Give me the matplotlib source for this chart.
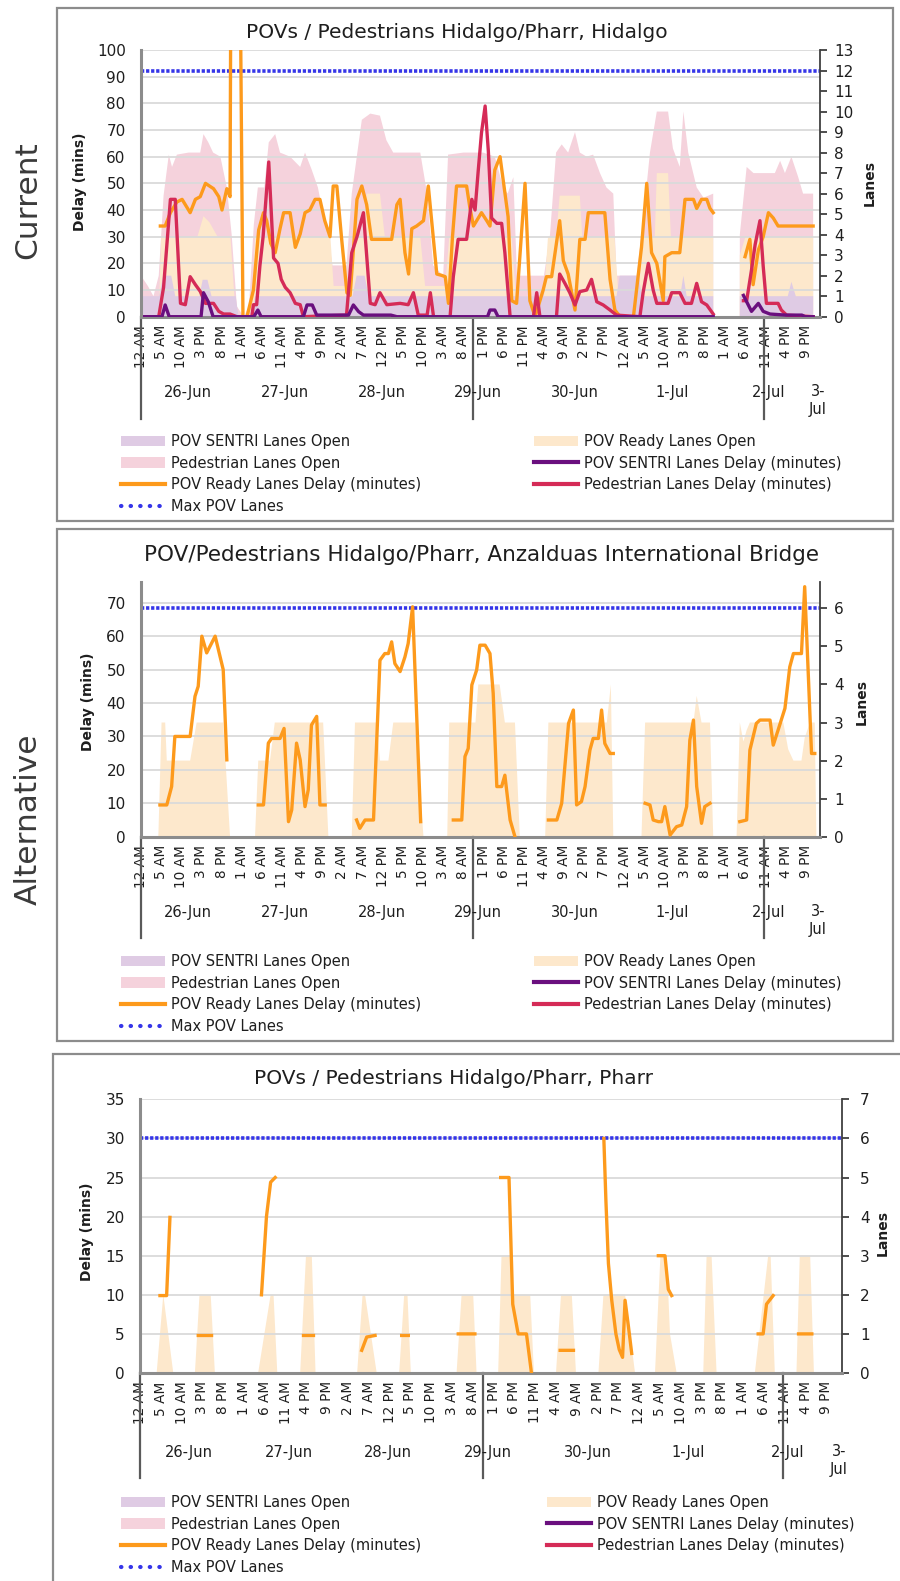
import numpy as np
import matplotlib
matplotlib.use('Agg')
import matplotlib.pyplot as plt
import matplotlib.transforms as mtransforms
from matplotlib.patches import Rectangle, Patch
from matplotlib.lines import Line2D

nan = np.nan

# x axis: hours counted from 26-Jun 12 AM
hour_labels = ['12 AM', '5 AM', '10 AM', '3 PM', '8 PM', '1 AM', '6 AM', '11 AM', '4 PM', '9 PM',
               '2 AM', '7 AM', '12 PM', '5 PM', '10 PM', '3 AM', '8 AM', '1 PM', '6 PM', '11 PM',
               '4 AM', '9 AM', '2 PM', '7 PM', '12 AM', '5 AM', '10 AM', '3 PM', '8 PM', '1 AM',
               '6 AM', '11 AM', '4 PM', '9 PM']
day_labels = ['26-Jun', '27-Jun', '28-Jun', '29-Jun', '30-Jun', '1-Jul', '2-Jul', '3-\nJul']
day_label_hours = [11.7, 35.7, 59.7, 83.7, 107.7, 131.7, 155.7, 168.0]
day_split_hours = [0, 82.5, 154.5]

# ---- Hidalgo (hour, lanes) / (hour, minutes) ----
hid_ped_open = [(0, 2.0), (1.7, 1.5), (3.1, 1.0), (4.4, 2.0), (5.6, 5.9), (6.9, 7.9), (7.7, 7.3), (8.9, 7.9),
                (11.8, 8.0), (14.7, 8.0), (15.5, 8.9), (16.7, 8.5), (17.9, 8.0), (19.7, 7.8), (21.3, 6.3),
                (22.5, 4.0), (23.8, 0.5), (25.5, 0), (26.8, 0.5), (28.0, 4.5), (29.0, 6.3), (30.6, 6.3),
                (31.7, 8.5), (33.3, 8.9), (34.5, 8.0), (37.0, 7.8), (39.5, 7.3), (40.7, 8.0), (42.3, 7.2),
                (43.9, 6.3), (45.2, 5.0), (46.4, 4.0), (47.5, 2.5), (51.0, 2.5), (52.3, 6.0), (54.8, 9.6),
                (56.9, 9.9), (59.3, 9.8), (60.9, 8.6), (62.6, 8.0), (69.3, 8.0), (71.0, 6.0), (72.5, 2.5),
                (75.0, 2.0), (76.2, 7.9), (80.0, 8.0), (84.9, 8.0), (87.8, 7.8), (89.9, 6.3), (91.0, 6.0),
                (92.4, 6.8), (93.3, 2.0), (100.0, 2.0), (101.5, 4.0), (103.0, 8.0), (104.4, 8.4),
                (106.0, 8.0), (107.7, 9.0), (108.9, 8.0), (110.6, 7.8), (112.2, 7.9), (113.9, 7.0),
                (115.5, 6.3), (117.2, 6.0), (118.0, 2.0), (123.0, 2.0), (124.5, 4.5), (126.3, 8.0),
                (128.0, 10.0), (130.8, 10.0), (132.0, 8.2), (133.7, 7.3), (134.6, 10.0), (135.8, 8.0),
                (137.9, 6.3), (139.6, 5.8), (142.0, 6.0), (nan, nan), (148.6, 4.0), (150.3, 7.3),
                (152.0, 7.0), (157.3, 7.0), (158.6, 7.6), (159.8, 7.0), (161.4, 7.8), (163.1, 6.8),
                (164.3, 6.0), (166.8, 6.0)]
hid_ready_open = [(0, 0), (4.4, 0), (5.0, 3.9), (14.0, 3.9), (15.5, 4.9), (17.0, 4.6), (19.0, 3.9),
                  (22.2, 3.9), (23.5, 0), (27.5, 0), (28.3, 3.9), (47.0, 3.9), (47.8, 1.5), (51.5, 1.5),
                  (52.5, 3.9), (55.2, 3.9), (56.0, 6.0), (59.3, 6.0), (60.5, 3.9), (69.3, 3.9),
                  (70.5, 1.5), (75.5, 1.5), (76.5, 3.9), (92.0, 3.9), (93.0, 1.0), (100.0, 1.0),
                  (101.0, 3.9), (103.0, 3.9), (103.9, 5.9), (108.9, 5.9), (109.5, 3.9), (117.5, 3.9),
                  (118.5, 1.0), (123.5, 1.0), (124.5, 3.9), (127.5, 3.9), (128.0, 7.0), (130.8, 7.0),
                  (131.5, 3.9), (142.0, 3.9), (nan, nan), (148.6, 3.0), (150.0, 3.9), (166.8, 3.9)]
hid_sentri_open = [(0, 1.0), (4.5, 1.0), (5.5, 2.0), (7.5, 2.0), (8.5, 1.0), (14.5, 1.0), (15.3, 1.8),
                   (16.5, 1.8), (17.5, 1.0), (23.5, 1.0), (24.2, 0), (27.5, 0), (28.3, 1.0), (52.5, 1.0),
                   (53.5, 2.0), (55.5, 2.0), (56.5, 1.0), (118.0, 1.0), (118.8, 2.0), (123.5, 2.0),
                   (124.3, 1.0), (133.8, 1.0), (134.6, 2.0), (135.4, 1.0), (142.0, 1.0), (nan, nan),
                   (148.6, 1.0), (160.5, 1.0), (161.4, 1.7), (162.5, 1.0), (166.8, 1.0)]
hid_ready_delay = [(4.8, 34), (6.0, 34), (7.3, 39), (8.9, 43), (10.2, 44), (12.2, 39), (13.5, 44),
                   (14.7, 45), (16.0, 50), (18.0, 48), (19.3, 45), (20.1, 40), (21.3, 48), (22.1, 45),
                   (22.3, 130), (24.6, 130), (25.3, 0), (26.3, 0), (27.9, 10), (29.2, 32.5), (30.4, 39),
                   (31.2, 36), (32.2, 27.5), (33.3, 24), (34.5, 33), (35.4, 39), (37.0, 39), (38.3, 26),
                   (39.5, 31), (40.7, 39), (41.9, 40), (43.2, 44), (44.4, 44), (45.6, 36), (46.9, 30),
                   (47.7, 49), (48.6, 49), (49.8, 29), (51.1, 9), (51.9, 8), (53.6, 44), (54.8, 49),
                   (56.0, 42), (57.2, 29), (62.2, 29), (63.5, 42), (64.3, 44), (65.5, 24), (66.4, 16),
                   (67.2, 33), (68.4, 34), (70.1, 36), (71.3, 49), (73.4, 16), (74.6, 15.5), (75.5, 15),
                   (76.3, 5), (77.3, 30), (78.3, 49), (80.8, 49), (81.6, 41), (82.5, 34), (84.5, 39),
                   (85.8, 36), (86.6, 34), (87.8, 55), (89.1, 60), (89.9, 51), (91.1, 37.5), (92.0, 6),
                   (93.2, 5), (95.3, 50), (96.5, 6), (97.8, 0), (99.8, 10), (100.6, 15), (101.9, 15),
                   (103.9, 36), (104.8, 21), (106.0, 16), (107.7, 2.5), (108.9, 29), (110.2, 29),
                   (111.0, 39), (112.2, 39), (115.1, 39), (116.4, 14), (117.6, 2.5), (118.9, 0),
                   (122.2, 0), (124.2, 26), (125.5, 50), (126.7, 24), (128.0, 20), (129.6, 6),
                   (130.0, 22.5), (131.7, 24), (133.7, 24), (135.0, 44), (137.1, 44), (137.9, 40.6),
                   (139.1, 44), (140.4, 44), (141.2, 40.6), (142.0, 39), (nan, nan), (149.9, 22.5),
                   (151.1, 29), (151.9, 12), (153.2, 25), (154.4, 30), (155.7, 39), (156.9, 37),
                   (158.1, 34), (166.8, 34)]
hid_ped_delay = [(0, 0), (4.4, 0), (5.6, 11), (7.3, 44), (8.5, 44), (9.8, 5), (11.0, 4.5), (12.2, 15),
                 (13.5, 12), (14.7, 9.5), (16.0, 5), (18.0, 5), (19.3, 2), (20.5, 1), (22.1, 1),
                 (23.8, 0), (27.5, 0), (27.9, 4.5), (28.7, 4.5), (29.5, 19), (30.3, 30), (31.7, 58),
                 (32.9, 22), (34.0, 20), (34.8, 14), (35.8, 11), (37.0, 9), (38.3, 5), (39.5, 4.5),
                 (40.3, 0), (51.0, 0.6), (52.3, 24), (53.6, 30), (55.2, 39), (56.9, 5), (58.1, 4.5),
                 (59.3, 9), (61.0, 4.5), (64.3, 5), (66.3, 4.5), (67.6, 9), (68.8, 0.6), (71.0, 0.6),
                 (71.8, 9), (72.6, 0), (76.7, 0), (77.5, 15), (78.7, 29), (80.8, 29), (82.1, 44),
                 (82.9, 40), (83.7, 55), (84.5, 69), (85.4, 79), (86.2, 62), (87.0, 37), (88.3, 35),
                 (89.5, 35), (90.3, 24), (91.6, 0), (97.4, 0), (98.2, 9), (99.0, 0), (103.1, 0),
                 (103.9, 16), (105.2, 12.5), (106.4, 9), (107.7, 4.4), (108.9, 9.4), (110.6, 10),
                 (111.8, 14), (113.1, 5.6), (114.7, 4.4), (116.4, 2.5), (118.0, 0.6), (123.8, 0),
                 (124.6, 9), (125.9, 20), (127.1, 10), (128.0, 5), (130.8, 5), (131.7, 9), (133.7, 9),
                 (135.0, 5), (136.6, 5), (137.9, 12.5), (139.1, 5.6), (140.4, 4.4), (142.0, 1),
                 (nan, nan), (149.5, 6), (150.3, 6), (151.5, 17.5), (152.4, 27), (153.6, 36),
                 (154.4, 19), (155.2, 5), (158.1, 5), (158.9, 2.5), (160.2, 0.6), (166.8, 0)]
hid_sentri_delay = [(0, 0), (5.2, 0), (6.0, 4.4), (7.0, 0), (14.9, 0), (15.5, 9), (16.7, 5.6), (17.9, 0),
                    (28.0, 0), (29.0, 2.5), (29.8, 0), (40.3, 0), (41.2, 4.4), (42.5, 4.4), (43.6, 0.6),
                    (51.5, 0.6), (52.7, 4.4), (54.0, 1.9), (55.2, 0.6), (62.0, 0.6), (63.5, 0), (86.0, 0),
                    (86.6, 2.5), (87.8, 2.5), (88.6, 0), (142.0, 0), (nan, nan), (149.5, 8), (150.7, 4.4),
                    (151.5, 2), (153.2, 5), (154.4, 2), (156.1, 1), (160.0, 0.6), (164.0, 0.6),
                    (164.8, 0), (166.8, 0)]
hid_max_lanes = 12

# ---- Anzalduas ----
anz_ready_open = [(4.3, 0), (5.1, 3.0), (6.0, 3.0), (6.4, 2.0), (12.2, 2.0), (13.8, 3.0), (20.4, 3.0),
                  (22.1, 0), (nan, nan), (28.3, 0), (29.1, 2.0), (32.0, 2.0), (33.2, 3.0), (45.2, 3.0),
                  (46.5, 0), (nan, nan), (52.3, 0), (53.1, 3.0), (58.5, 3.0), (59.3, 2.0), (61.4, 2.0),
                  (62.6, 3.0), (68.0, 3.0), (70.1, 0), (nan, nan), (76.0, 0), (76.5, 3.0), (83.0, 3.0),
                  (83.7, 4.0), (89.0, 4.0), (90.3, 3.0), (92.8, 3.0), (94.0, 0), (nan, nan), (100.3, 0),
                  (101.1, 3.0), (115.6, 3.0), (116.6, 4.0), (117.2, 0), (nan, nan), (124.2, 0),
                  (125.1, 3.0), (137.1, 3.0), (137.9, 3.7), (139.1, 3.0), (141.2, 3.0), (142.0, 0),
                  (nan, nan), (147.8, 0), (148.6, 3.0), (149.5, 2.5), (150.3, 2.8), (151.1, 3.0),
                  (159.4, 3.0), (160.6, 2.3), (161.9, 2.0), (163.9, 2.0), (164.7, 2.6), (166.0, 3.0),
                  (167.2, 3.0), (167.6, 0)]
anz_ready_delay = [(4.7, 9.5), (6.4, 9.5), (7.6, 15), (8.4, 30), (12.2, 30), (13.4, 42), (14.2, 45),
                   (15.1, 60), (16.3, 55), (18.4, 60), (20.4, 50), (21.3, 23), (nan, nan),
                   (29.1, 9.5), (30.4, 9.5), (31.6, 28), (32.4, 29.4), (34.5, 29.4), (35.5, 32.4),
                   (36.6, 4.5), (37.4, 8), (38.6, 28), (39.5, 23), (40.7, 9), (41.5, 14), (42.3, 33.4),
                   (43.6, 36), (44.4, 9.5), (45.7, 9.5), (nan, nan),
                   (53.5, 5), (54.3, 2.5), (55.6, 5), (57.7, 5), (59.3, 52.8), (60.5, 54.8), (61.4, 54.8),
                   (62.2, 58.3), (63.0, 51.8), (64.3, 49.4), (65.5, 53.8), (66.3, 57.8), (67.4, 68.8),
                   (69.4, 4.5), (nan, nan),
                   (77.5, 5), (79.6, 5), (80.4, 24), (81.2, 26.4), (82.1, 45.4), (83.3, 49.9),
                   (84.1, 57.3), (85.4, 57.3), (86.6, 54.8), (87.4, 42.9), (88.3, 15), (89.5, 15),
                   (90.3, 18.4), (91.6, 5), (92.8, 0), (nan, nan),
                   (101.1, 5), (103.2, 5), (104.4, 10), (106.1, 33.9), (107.3, 37.9), (108.1, 9.5),
                   (109.3, 10.5), (110.2, 15), (111.4, 25.9), (112.2, 29.4), (113.5, 29.4), (114.3, 37.9),
                   (115.1, 27.9), (116.4, 24.9), (117.2, 24.9), (nan, nan),
                   (125.1, 10), (126.3, 9.5), (127.1, 5), (128.4, 4.5), (129.2, 4.5), (130.0, 9),
                   (131.3, 0.5), (132.9, 3), (134.2, 3.5), (135.4, 9), (136.2, 28.9), (137.1, 34.9),
                   (137.9, 15), (139.1, 4), (139.9, 9), (141.2, 10), (nan, nan),
                   (148.6, 4.5), (150.3, 5), (151.1, 25.9), (152.7, 33.9), (153.6, 34.9), (156.1, 34.9),
                   (156.9, 27.4), (158.1, 31.9), (159.8, 38.4), (161.0, 50.8), (161.9, 54.8),
                   (163.9, 54.8), (164.7, 74.8), (166.4, 24.9), (167.2, 24.9)]
anz_max_lanes = 6

# ---- Pharr ----
pharr_ready_open = [(4.0, 0), (5.6, 2), (8.0, 0), (nan, nan), (13.2, 0), (14.3, 2), (17.0, 2), (18.0, 0),
                    (nan, nan), (28.4, 0), (31.4, 2), (32.1, 2), (33.0, 0), (nan, nan), (38.5, 0),
                    (39.9, 3), (41.3, 3), (42.2, 0), (nan, nan), (52.2, 0), (53.5, 2), (54.1, 2),
                    (56.9, 0), (nan, nan), (62.3, 0), (63.5, 2), (64.3, 2), (65.1, 0), (nan, nan),
                    (76.1, 0), (77.3, 2), (80.1, 2), (80.9, 0), (nan, nan), (86.1, 0), (86.9, 3),
                    (89.3, 3), (89.7, 2), (93.8, 2), (94.7, 0), (nan, nan), (100.0, 0), (101.2, 2),
                    (103.8, 2), (104.8, 0), (nan, nan), (110.2, 0), (111.4, 2), (116.6, 2), (119.0, 0),
                    (nan, nan), (123.8, 0), (125.1, 3), (126.6, 3), (127.4, 1), (129.0, 0), (nan, nan),
                    (135.4, 0), (136.2, 3), (137.4, 3), (138.6, 0), (nan, nan), (147.8, 0), (151.0, 3),
                    (151.6, 3), (152.6, 0), (nan, nan), (157.8, 0), (158.6, 3), (161.1, 3), (162.0, 0)]
pharr_ready_delay = [(4.8, 9.9), (6.4, 9.9), (7.2, 19.9), (nan, nan), (14.0, 4.8), (17.2, 4.8), (nan, nan),
                     (29.2, 10.0), (30.4, 20.0), (31.4, 24.4), (32.5, 25.0), (nan, nan), (39.3, 4.8),
                     (41.7, 4.8), (nan, nan), (53.3, 2.9), (54.5, 4.6), (56.5, 4.8), (nan, nan),
                     (62.9, 4.8), (64.5, 4.8), (nan, nan), (76.5, 5), (80.5, 5), (nan, nan),
                     (86.7, 25), (88.7, 25), (89.6, 8.8), (90.9, 5), (92.9, 5), (94.1, 0), (nan, nan),
                     (101.0, 2.9), (104.2, 2.9), (nan, nan), (111.5, 30), (112.0, 22), (112.6, 14),
                     (113.4, 9.3), (114.4, 5), (115.2, 3), (116.0, 2), (116.6, 9.3), (117.4, 6),
                     (118.2, 2.5), (nan, nan), (124.6, 15), (126.2, 15), (127.0, 10.7), (127.8, 9.9),
                     (nan, nan), (148.6, 5), (149.8, 5), (150.6, 8.8), (152.2, 9.9), (nan, nan),
                     (158.3, 5), (161.5, 5)]
pharr_max_lanes = 6

# colours
c_sentri_open = '#dfcbe4'
c_ready_open = '#fde8cc'
c_ped_open = '#f5d2dc'
c_sentri = '#6a0f7e'
c_ready = '#fd9a1c'
c_ped = '#d52b57'
c_max = '#3535e8'
c_box = '#8c8c8c'
c_grid = '#dadada'
c_text = '#1e1e1e'

W, H = 900, 1581
fig = plt.figure(figsize=(W / 100, H / 100), dpi=100)
fig.patch.set_facecolor('white')


def fy(y):
    return 1 - y / H


def xy(pairs):
    a = np.array(pairs, dtype=float)
    return a[:, 0], a[:, 1]


def box(x0, y0, x1, y1):
    fig.add_artist(Rectangle((x0 / W, fy(y1)), (x1 - x0) / W, (y1 - y0) / H, transform=fig.transFigure,
                             fill=False, ec=c_box, lw=1.6, clip_on=False))


def panel(ax_px, xmax, ymax, ystep, lmax, title, title_px, title_size, dly_px, lanes_px,
          rpad, date_y, split_y, areas, lines, max_lanes):
    x0, y0, x1, y1 = ax_px
    ax2 = fig.add_axes([x0 / W, fy(y1), (x1 - x0) / W, (y1 - y0) / H])
    ax = ax2.twinx()  # delay axis drawn above the lane areas
    ax.yaxis.tick_left()
    ax2.yaxis.tick_right()

    yt = np.arange(0, ymax + 0.01, ystep)
    for pairs, col in areas:
        hx, hv = xy(pairs)
        ax2.fill_between(hx, 0, hv, color=col, lw=0, zorder=1)
    # horizontal grid follows the delay ticks, kept under the max-lanes line
    for t in yt[1:]:
        ax2.axhline(t * lmax / ymax, color=c_grid, lw=1.3, zorder=1.5)
    ax2.plot([0, xmax], [max_lanes, max_lanes], color=c_max, lw=2.6, ls=(0, (0.9, 0.5)), zorder=2)
    for pairs, col in lines:
        hx, hv = xy(pairs)
        ax.plot(hx, hv, color=col, lw=2.4, solid_joinstyle='round')

    ax.set_xlim(0, xmax)
    ax2.set_xlim(0, xmax)
    ax.set_ylim(0, ymax)
    ax2.set_ylim(0, lmax)
    ax.set_yticks(yt)
    ax2.set_yticks(np.arange(0, int(lmax) + 1))
    ax.tick_params(axis='y', length=0, pad=11, labelsize=11, labelcolor=c_text)
    ax2.tick_params(axis='y', length=5, width=1.3, color='#404040', pad=rpad, labelsize=11,
                    labelcolor=c_text)

    ax2.set_xticks(np.arange(0, 166, 5))
    ax2.set_xticklabels(hour_labels, rotation=90, fontsize=9.8, color=c_text)
    ax2.tick_params(axis='x', length=0, pad=6)

    for a in (ax, ax2):
        a.spines['top'].set_visible(False)
    ax.spines['right'].set_visible(False)
    ax.spines['bottom'].set_visible(False)
    ax2.spines['left'].set_visible(False)
    ax.spines['left'].set_color(c_box)
    ax.spines['left'].set_linewidth(2.2)
    ax2.spines['bottom'].set_color(c_box)
    ax2.spines['bottom'].set_linewidth(2.2)
    ax2.spines['right'].set_color('#404040')
    ax2.spines['right'].set_linewidth(1.3)

    fig.text(title_px[0] / W, fy(title_px[1]), title, ha='center', va='center',
             fontsize=title_size, color=c_text)
    fig.text(dly_px[0] / W, fy(dly_px[1]), 'Delay (mins)', rotation=90, ha='center', va='center',
             fontsize=10, fontweight='bold', color=c_text)
    fig.text(lanes_px[0] / W, fy(lanes_px[1]), 'Lanes', rotation=90, ha='center', va='center',
             fontsize=10, fontweight='bold', color=c_text)

    tr = mtransforms.blended_transform_factory(ax2.transData, fig.transFigure)
    for lab, h in zip(day_labels, day_label_hours):
        if '\n' in lab:
            ax2.text(h, fy(date_y - 8), lab, transform=tr, ha='center', va='top', fontsize=10.5,
                     color=c_text, linespacing=1.25)
        else:
            ax2.text(h, fy(date_y), lab, transform=tr, ha='center', va='center', fontsize=10.5,
                     color=c_text)
    for h in day_split_hours:
        ax2.plot([h, h], [fy(y1), fy(split_y)], transform=tr, color='#5a5a5a', lw=1.6,
                 clip_on=False)
    return ax, ax2


def legends(left_x, right_x, top_y):
    kw = dict(loc='upper left', frameon=False, fontsize=10.5, handlelength=3.0, handletextpad=0.4,
              labelspacing=0.45, borderpad=0, borderaxespad=0, bbox_transform=fig.transFigure,
              labelcolor=c_text)
    left = [Patch(fc=c_sentri_open, ec='none'), Patch(fc=c_ped_open, ec='none'),
            Line2D([], [], color=c_ready, lw=3),
            Line2D([], [], color=c_max, lw=3, ls=(0, (0.1, 2.2)), dash_capstyle='round')]
    right = [Patch(fc=c_ready_open, ec='none'), Line2D([], [], color=c_sentri, lw=3),
             Line2D([], [], color=c_ped, lw=3)]
    fig.legend(left, ['POV SENTRI Lanes Open', 'Pedestrian Lanes Open',
                      'POV Ready Lanes Delay (minutes)', 'Max POV Lanes'],
               bbox_to_anchor=(left_x / W, fy(top_y)), **kw)
    fig.legend(right, ['POV Ready Lanes Open', 'POV SENTRI Lanes Delay (minutes)',
                       'Pedestrian Lanes Delay (minutes)'],
               bbox_to_anchor=(right_x / W, fy(top_y)), **kw)


# Current: Hidalgo
box(57, 8, 893, 521)
panel((141, 50, 820, 316.7), 168.5, 100, 10, 13,
      'POVs / Pedestrians Hidalgo/Pharr, Hidalgo', (457, 32), 14.5, (80, 182), (870, 183), 5,
      392, 419,
      [(hid_ped_open, c_ped_open), (hid_ready_open, c_ready_open), (hid_sentri_open, c_sentri_open)],
      [(hid_ready_delay, c_ready), (hid_ped_delay, c_ped), (hid_sentri_delay, c_sentri)],
      hid_max_lanes)
legends(121, 534, 434)

# Alternative: Anzalduas
box(57, 529, 893, 1041)
panel((141, 581.7, 820, 836.7), 168.5, 76.3, 10, 6.7,
      'POV/Pedestrians Hidalgo/Pharr, Anzalduas International Bridge', (481, 555), 15.5,
      (88, 702), (862, 702), 5, 912, 938,
      [(anz_ready_open, c_ready_open)], [(anz_ready_delay, c_ready)], anz_max_lanes)
legends(121, 534, 954)

# Pharr
box(53, 1054, 910, 1600)
panel((140, 1099.3, 842, 1373), 168.75, 35, 5, 7,
      'POVs / Pedestrians Hidalgo/Pharr, Pharr', (454, 1079), 14.5, (87, 1232), (883, 1233), 8,
      1452, 1478,
      [(pharr_ready_open, c_ready_open)], [(pharr_ready_delay, c_ready)], pharr_max_lanes)
legends(121, 547, 1495)

fig.text(28 / W, fy(200), 'Current', rotation=90, ha='center', va='center', fontsize=22.5,
         color='#3a3a3a')
fig.text(28 / W, fy(819), 'Alternative', rotation=90, ha='center', va='center', fontsize=22.5,
         color='#3a3a3a')

fig.savefig('out.png', dpi=100, facecolor='white')
